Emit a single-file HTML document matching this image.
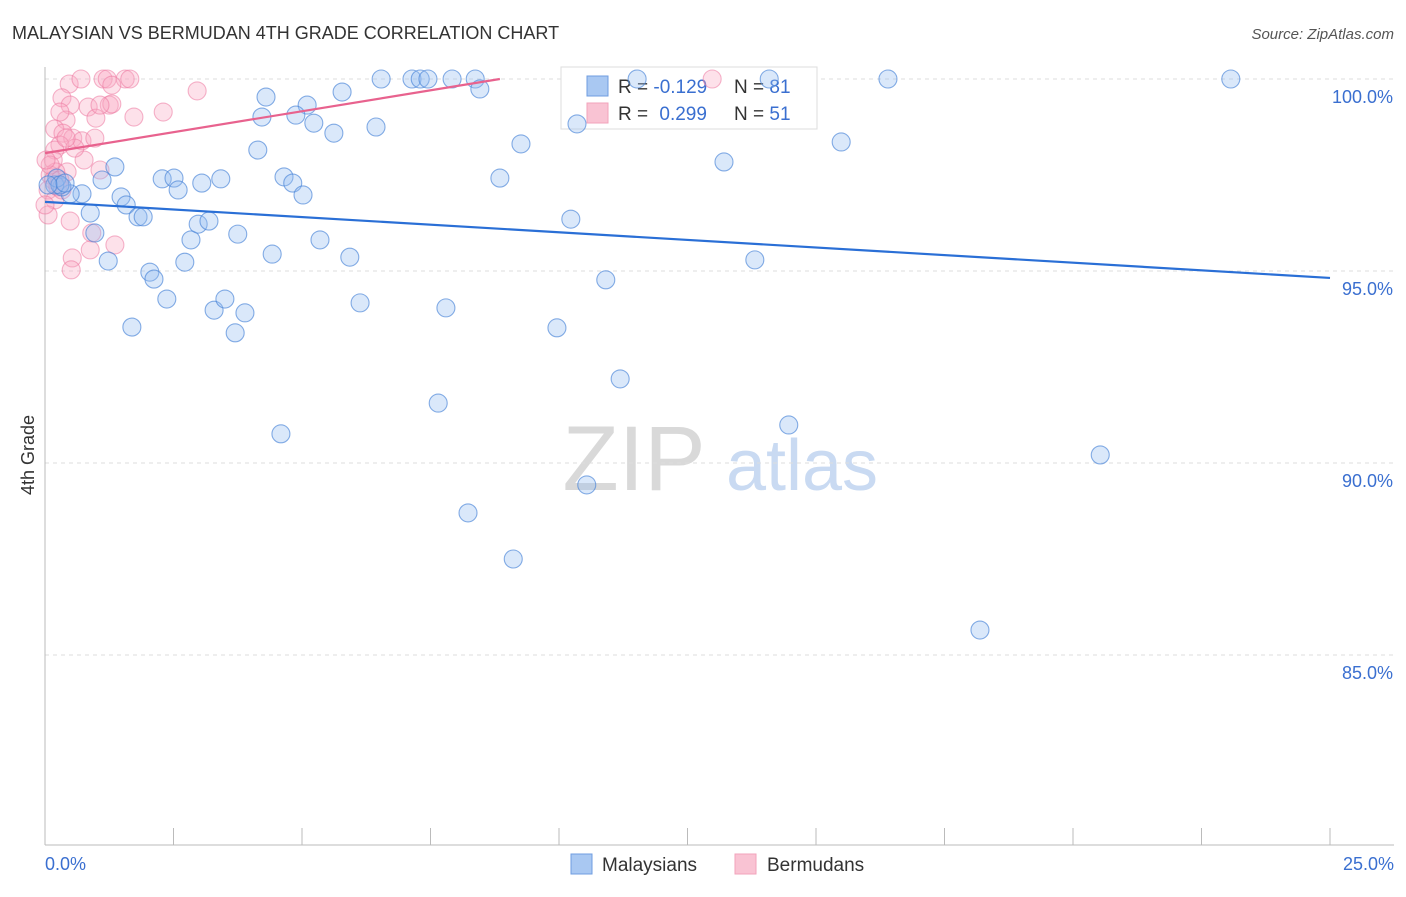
<!DOCTYPE html>
<html><head><meta charset="utf-8">
<style>
body{margin:0;background:#fff;font-family:"Liberation Sans",sans-serif;}
svg text{font-family:"Liberation Sans",sans-serif;}
</style></head>
<body>
<svg id="chart" width="1406" height="892" xmlns="http://www.w3.org/2000/svg">
<text x="12" y="39" font-size="18" fill="#333">MALAYSIAN VS BERMUDAN 4TH GRADE CORRELATION CHART</text>
<text x="1394" y="39" font-size="15" fill="#555" font-style="italic" text-anchor="end">Source: ZipAtlas.com</text>
<g>
<text x="634" y="490" font-size="92" fill="#d9d9d9" font-family="Liberation Serif,serif" text-anchor="middle">ZIP</text>
<text x="802" y="490" font-size="72" fill="#c9daf2" text-anchor="middle">atlas</text>
</g>
<g id="grid"></g>
<g id="axes"></g>
<g>
<rect x="561" y="67" width="256" height="62" fill="#fff" stroke="#ddd"/>
<rect x="587" y="76" width="21" height="20" fill="#a9c8f2" stroke="#6f9de0"/>
<rect x="587" y="103" width="21" height="20" fill="#f9c3d3" stroke="#f2a3bb"/>
<text x="618" y="93" font-size="19" fill="#333">R = <tspan fill="#3a6fd0">-0.129</tspan></text>
<text x="734" y="93" font-size="19" fill="#333">N = <tspan fill="#3a6fd0">81</tspan></text>
<text x="618" y="120" font-size="19" fill="#333">R = <tspan fill="#3a6fd0" dx="6">0.299</tspan></text>
<text x="734" y="120" font-size="19" fill="#333">N = <tspan fill="#3a6fd0">51</tspan></text>
</g>
<g id="marks"></g>
<g id="lines"></g>
<text transform="translate(34,455) rotate(-90)" font-size="18" fill="#333" text-anchor="middle">4th Grade</text>
<text x="45" y="870" font-size="18" fill="#3a6fd0">0.0%</text>
<text x="1394" y="870" font-size="18" fill="#3a6fd0" text-anchor="end">25.0%</text>
<g>
<rect x="571" y="854" width="21" height="20" fill="#a9c8f2" stroke="#6f9de0"/>
<text x="602" y="871" font-size="19" fill="#333">Malaysians</text>
<rect x="735" y="854" width="21" height="20" fill="#f9c3d3" stroke="#f2a3bb"/>
<text x="767" y="871" font-size="19" fill="#333">Bermudans</text>
</g>
</svg>
<script>
const yTicks=[100,95,90,85];
const yTickLabels=["100.0%","95.0%","90.0%","85.0%"];
const xTicks=[0,2.5,5,7.5,10,12.5,15,17.5,20,22.5,25];
const malaysianX=[6.54,7.14,7.30,7.45,7.92,8.37,8.46,4.30,5.10,4.22,4.88,5.23,5.62,6.44,5.78,4.14,9.26,10.35,11.52,14.09,16.40,23.07,15.49,13.21,8.85,1.36,1.11,2.28,2.51,2.59,3.05,3.42,4.65,4.82,5.02,1.48,1.58,1.81,1.91,0.88,0.72,0.49,0.33,0.19,0.97,2.84,2.98,3.19,3.75,4.42,5.35,5.93,2.72,1.23,2.04,2.12,2.37,3.29,3.50,3.89,3.70,1.69,6.13,7.80,10.23,10.91,13.81,9.96,11.19,7.65,4.59,14.47,20.53,10.54,8.23,9.11,18.19,0.23,0.29,0.06,0.39];
const malaysianY=[100,100,100,100,100,100,99.74,99.53,99.32,99.01,99.06,98.85,98.59,98.75,99.66,98.15,98.31,98.83,100,100,100,100,98.36,97.84,97.42,97.71,97.37,97.40,97.42,97.11,97.29,97.40,97.45,97.29,96.98,96.93,96.72,96.41,96.41,96.51,97.01,97.01,97.19,97.24,95.99,95.81,96.22,96.30,95.96,95.44,95.81,95.36,95.23,95.26,94.97,94.79,94.27,93.98,94.27,93.91,93.39,93.54,94.17,94.04,96.35,94.77,95.29,93.52,92.19,91.56,90.76,90.99,90.21,89.43,88.70,87.50,85.65,97.42,97.24,97.24,97.29];
const bermudanX=[0.47,0.70,1.13,1.21,1.56,1.65,2.96,0.33,0.49,0.84,1.25,1.30,2.30,1.73,0.99,0.41,0.19,0.35,0.54,0.72,0.29,0.19,0.16,0.76,1.07,0.43,0.21,0.10,0.16,0.06,0.19,0.49,0.91,1.36,0.88,0.53,0.51,0.06,0.25,0.58,0.41,1.30,12.98,0.10,0.02,0.29,0.33,0,0.97,1.07,0.29];
const bermudanY=[99.87,100,100,100,100,100,99.69,99.51,99.32,99.27,99.32,99.35,99.14,99.01,98.98,98.93,98.70,98.59,98.46,98.39,98.28,98.15,97.89,97.89,97.63,97.58,97.58,97.50,97.37,97.11,96.85,96.30,95.99,95.68,95.55,95.34,95.03,96.46,97.19,98.20,98.46,99.84,100,97.76,97.89,97.37,97.11,96.72,98.46,99.32,99.14];
const trendMalaysian=[96.80,94.82]; // at x=0 and x=25
const trendBermudan=[98.07,100,8.85]; // y at 0, y end, x end

const NS="http://www.w3.org/2000/svg";
const X0=45,X1=1330,Y100=79,PXPER=38.4;
const sx=v=>X0+(v/25)*(X1-X0);
const sy=v=>Y100+(100-v)*PXPER;
function mk(tag,attrs,parent){const e=document.createElementNS(NS,tag);for(const k in attrs)e.setAttribute(k,attrs[k]);parent.appendChild(e);return e;}
const grid=document.getElementById('grid'),axes=document.getElementById('axes'),marks=document.getElementById('marks'),lines=document.getElementById('lines');
yTicks.forEach((t,i)=>{
 const l=mk('line',{x1:45,x2:1394,y1:sy(t),y2:sy(t),stroke:'#ddd','stroke-dasharray':'4,4'},grid);
 
 
 const tx=mk('text',{x:1393,y:sy(t)+24,'font-size':18,fill:'#3a6fd0','text-anchor':'end'},grid);
 tx.textContent=yTickLabels[i];
 
 
});
let a=mk('line',{x1:45,x2:45,y1:67,y2:845,stroke:'#bbb'},axes);


a=mk('line',{x1:45,x2:1394,y1:845,y2:845,stroke:'#bbb'},axes);


xTicks.forEach(t=>{
 const l=mk('line',{x1:sx(t),x2:sx(t),y1:828,y2:845,stroke:'#bbb'},axes);
 
 
});
bermudanX.forEach((x,i)=>{
 const c=mk('circle',{cx:sx(x),cy:sy(bermudanY[i]),r:9,fill:'rgba(248,170,195,0.35)',stroke:'rgba(236,120,160,0.55)','stroke-width':1.1},marks);
 
 
});
malaysianX.forEach((x,i)=>{
 const c=mk('circle',{cx:sx(x),cy:sy(malaysianY[i]),r:9,fill:'rgba(150,190,240,0.35)',stroke:'rgba(70,130,215,0.65)','stroke-width':1.1},marks);
 
 
});
let t=mk('line',{x1:sx(0),y1:sy(trendMalaysian[0]),x2:sx(25),y2:sy(trendMalaysian[1]),stroke:'#2a6fd6','stroke-width':2.2},lines);


t=mk('line',{x1:sx(0),y1:sy(trendBermudan[0]),x2:sx(trendBermudan[2]),y2:sy(trendBermudan[1]),stroke:'#e8628e','stroke-width':2.2},lines);


</script>
</body></html>
